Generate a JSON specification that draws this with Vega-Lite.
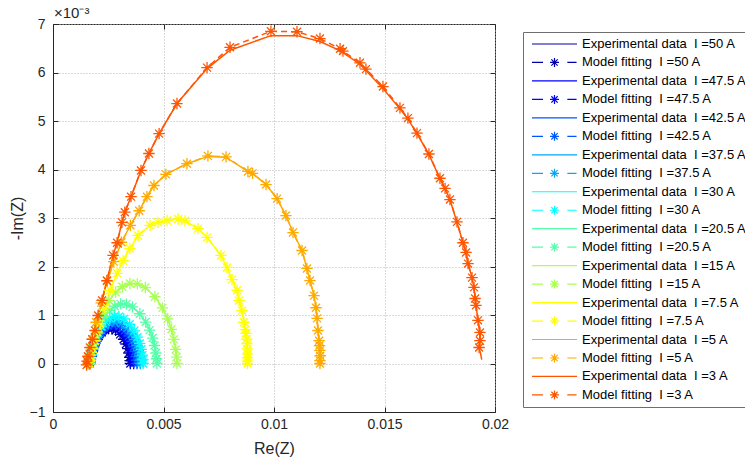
{
"$schema": "https://vega.github.io/schema/vega-lite/v6.json",
"width": 442, "height": 388,
"autosize": {"type": "none"},
"padding": {"left": 53, "top": 24, "right": 250, "bottom": 54},
"background": "white",
"title": {"text": "×10⁻³", "anchor": "start", "frame": "group", "font": "Liberation Sans", "fontSize": 15, "fontWeight": "normal", "color": "#262626", "baseline": "alphabetic", "offset": 4, "dx": 1, "dy": 20},
"config": {
  "view": {"stroke": "#262626", "strokeWidth": 1},
  "axis": {"labelFont": "Liberation Sans", "labelFontSize": 14, "labelColor": "#262626", "titleFont": "Liberation Sans", "titleFontSize": 16, "titleFontWeight": "normal", "titleColor": "#262626", "domainColor": "#262626", "tickColor": "#262626", "gridColor": "#b4b4b4", "gridDash": [1, 2], "gridOpacity": 1, "labelFlush": false, "labelOverlap": false, "labelBound": false},
  "legend": {"title": null, "orient": "none", "padding": 5, "fillColor": "white", "strokeColor": "#6e6e6e",
      "labelFont": "Liberation Sans", "labelFontSize": 13, "labelColor": "#000000", "labelLimit": 400, "labelOffset": 4,
      "symbolOffset": 3, "symbolSize": 2025, "symbolStrokeWidth": 1.2, "symbolFillColor": "transparent", "symbolOpacity": 1, "clipHeight": 14, "rowPadding": 4.47}
},
"datasets": {
"nyquist": [
{"k":"E50","x":0.00165,"y":0},{"k":"E50","x":0.001663,"y":0.036},{"k":"E50","x":0.001687,"y":0.072},{"k":"E50","x":0.00172,"y":0.137},{"k":"E50","x":0.001772,"y":0.238},{"k":"E50","x":0.001835,"y":0.338},{"k":"E50","x":0.001941,"y":0.457},{"k":"E50","x":0.002072,"y":0.566},{"k":"E50","x":0.002212,"y":0.642},{"k":"E50","x":0.002353,"y":0.691},{"k":"E50","x":0.002512,"y":0.72},{"k":"E50","x":0.002668,"y":0.716},{"k":"E50","x":0.002836,"y":0.683},{"k":"E50","x":0.003036,"y":0.6},{"k":"E50","x":0.003195,"y":0.5},{"k":"E50","x":0.003304,"y":0.402},{"k":"E50","x":0.003384,"y":0.307},{"k":"E50","x":0.003435,"y":0.217},{"k":"E50","x":0.003472,"y":0.127},{"k":"E50","x":0.003491,"y":0.058},{"k":"E50","x":0.0035,"y":0},
{"k":"M50","x":0.00165,"y":0},{"k":"M50","x":0.001663,"y":0.036},{"k":"M50","x":0.001687,"y":0.072},{"k":"M50","x":0.00172,"y":0.137},{"k":"M50","x":0.001772,"y":0.238},{"k":"M50","x":0.001835,"y":0.338},{"k":"M50","x":0.001941,"y":0.457},{"k":"M50","x":0.002072,"y":0.566},{"k":"M50","x":0.002212,"y":0.642},{"k":"M50","x":0.002353,"y":0.691},{"k":"M50","x":0.002512,"y":0.72},{"k":"M50","x":0.002668,"y":0.716},{"k":"M50","x":0.002836,"y":0.683},{"k":"M50","x":0.003036,"y":0.6},{"k":"M50","x":0.003195,"y":0.5},{"k":"M50","x":0.003304,"y":0.402},{"k":"M50","x":0.003384,"y":0.307},{"k":"M50","x":0.003435,"y":0.217},{"k":"M50","x":0.003472,"y":0.127},{"k":"M50","x":0.003491,"y":0.058},{"k":"M50","x":0.0035,"y":0},
{"k":"E47.5","x":0.00165,"y":0},{"k":"E47.5","x":0.001664,"y":0.039},{"k":"E47.5","x":0.00169,"y":0.077},{"k":"E47.5","x":0.001726,"y":0.146},{"k":"E47.5","x":0.001782,"y":0.254},{"k":"E47.5","x":0.00185,"y":0.362},{"k":"E47.5","x":0.001964,"y":0.489},{"k":"E47.5","x":0.002106,"y":0.605},{"k":"E47.5","x":0.002258,"y":0.686},{"k":"E47.5","x":0.00241,"y":0.739},{"k":"E47.5","x":0.002582,"y":0.77},{"k":"E47.5","x":0.00275,"y":0.766},{"k":"E47.5","x":0.002932,"y":0.731},{"k":"E47.5","x":0.003148,"y":0.642},{"k":"E47.5","x":0.00332,"y":0.535},{"k":"E47.5","x":0.003438,"y":0.43},{"k":"E47.5","x":0.003524,"y":0.329},{"k":"E47.5","x":0.00358,"y":0.233},{"k":"E47.5","x":0.00362,"y":0.136},{"k":"E47.5","x":0.00364,"y":0.062},{"k":"E47.5","x":0.00365,"y":0},
{"k":"M47.5","x":0.00165,"y":0},{"k":"M47.5","x":0.001664,"y":0.039},{"k":"M47.5","x":0.00169,"y":0.077},{"k":"M47.5","x":0.001726,"y":0.146},{"k":"M47.5","x":0.001782,"y":0.254},{"k":"M47.5","x":0.00185,"y":0.362},{"k":"M47.5","x":0.001964,"y":0.489},{"k":"M47.5","x":0.002106,"y":0.605},{"k":"M47.5","x":0.002258,"y":0.686},{"k":"M47.5","x":0.00241,"y":0.739},{"k":"M47.5","x":0.002582,"y":0.77},{"k":"M47.5","x":0.00275,"y":0.766},{"k":"M47.5","x":0.002932,"y":0.731},{"k":"M47.5","x":0.003148,"y":0.642},{"k":"M47.5","x":0.00332,"y":0.535},{"k":"M47.5","x":0.003438,"y":0.43},{"k":"M47.5","x":0.003524,"y":0.329},{"k":"M47.5","x":0.00358,"y":0.233},{"k":"M47.5","x":0.00362,"y":0.136},{"k":"M47.5","x":0.00364,"y":0.062},{"k":"M47.5","x":0.00365,"y":0},
{"k":"E42.5","x":0.00165,"y":0},{"k":"E42.5","x":0.001665,"y":0.041},{"k":"E42.5","x":0.001693,"y":0.082},{"k":"E42.5","x":0.001732,"y":0.156},{"k":"E42.5","x":0.001792,"y":0.271},{"k":"E42.5","x":0.001865,"y":0.385},{"k":"E42.5","x":0.001988,"y":0.521},{"k":"E42.5","x":0.00214,"y":0.645},{"k":"E42.5","x":0.002304,"y":0.731},{"k":"E42.5","x":0.002467,"y":0.787},{"k":"E42.5","x":0.002652,"y":0.82},{"k":"E42.5","x":0.002833,"y":0.816},{"k":"E42.5","x":0.003028,"y":0.778},{"k":"E42.5","x":0.00326,"y":0.684},{"k":"E42.5","x":0.003445,"y":0.57},{"k":"E42.5","x":0.003572,"y":0.458},{"k":"E42.5","x":0.003665,"y":0.35},{"k":"E42.5","x":0.003725,"y":0.248},{"k":"E42.5","x":0.003768,"y":0.144},{"k":"E42.5","x":0.003789,"y":0.066},{"k":"E42.5","x":0.0038,"y":0},
{"k":"M42.5","x":0.00165,"y":0},{"k":"M42.5","x":0.001665,"y":0.041},{"k":"M42.5","x":0.001693,"y":0.082},{"k":"M42.5","x":0.001732,"y":0.156},{"k":"M42.5","x":0.001792,"y":0.271},{"k":"M42.5","x":0.001865,"y":0.385},{"k":"M42.5","x":0.001988,"y":0.521},{"k":"M42.5","x":0.00214,"y":0.645},{"k":"M42.5","x":0.002304,"y":0.731},{"k":"M42.5","x":0.002467,"y":0.787},{"k":"M42.5","x":0.002652,"y":0.82},{"k":"M42.5","x":0.002833,"y":0.816},{"k":"M42.5","x":0.003028,"y":0.778},{"k":"M42.5","x":0.00326,"y":0.684},{"k":"M42.5","x":0.003445,"y":0.57},{"k":"M42.5","x":0.003572,"y":0.458},{"k":"M42.5","x":0.003665,"y":0.35},{"k":"M42.5","x":0.003725,"y":0.248},{"k":"M42.5","x":0.003768,"y":0.144},{"k":"M42.5","x":0.003789,"y":0.066},{"k":"M42.5","x":0.0038,"y":0},
{"k":"E37.5","x":0.00164,"y":0},{"k":"E37.5","x":0.001656,"y":0.044},{"k":"E37.5","x":0.001686,"y":0.088},{"k":"E37.5","x":0.001728,"y":0.167},{"k":"E37.5","x":0.001793,"y":0.29},{"k":"E37.5","x":0.001871,"y":0.414},{"k":"E37.5","x":0.002003,"y":0.559},{"k":"E37.5","x":0.002167,"y":0.692},{"k":"E37.5","x":0.002342,"y":0.784},{"k":"E37.5","x":0.002518,"y":0.845},{"k":"E37.5","x":0.002717,"y":0.88},{"k":"E37.5","x":0.002911,"y":0.876},{"k":"E37.5","x":0.003121,"y":0.835},{"k":"E37.5","x":0.00337,"y":0.734},{"k":"E37.5","x":0.003569,"y":0.612},{"k":"E37.5","x":0.003705,"y":0.492},{"k":"E37.5","x":0.003805,"y":0.376},{"k":"E37.5","x":0.003869,"y":0.266},{"k":"E37.5","x":0.003915,"y":0.155},{"k":"E37.5","x":0.003939,"y":0.07},{"k":"E37.5","x":0.00395,"y":0},
{"k":"M37.5","x":0.00164,"y":0},{"k":"M37.5","x":0.001656,"y":0.044},{"k":"M37.5","x":0.001686,"y":0.088},{"k":"M37.5","x":0.001728,"y":0.167},{"k":"M37.5","x":0.001793,"y":0.29},{"k":"M37.5","x":0.001871,"y":0.414},{"k":"M37.5","x":0.002003,"y":0.559},{"k":"M37.5","x":0.002167,"y":0.692},{"k":"M37.5","x":0.002342,"y":0.784},{"k":"M37.5","x":0.002518,"y":0.845},{"k":"M37.5","x":0.002717,"y":0.88},{"k":"M37.5","x":0.002911,"y":0.876},{"k":"M37.5","x":0.003121,"y":0.835},{"k":"M37.5","x":0.00337,"y":0.734},{"k":"M37.5","x":0.003569,"y":0.612},{"k":"M37.5","x":0.003705,"y":0.492},{"k":"M37.5","x":0.003805,"y":0.376},{"k":"M37.5","x":0.003869,"y":0.266},{"k":"M37.5","x":0.003915,"y":0.155},{"k":"M37.5","x":0.003939,"y":0.07},{"k":"M37.5","x":0.00395,"y":0},
{"k":"E30","x":0.00164,"y":0},{"k":"E30","x":0.001657,"y":0.049},{"k":"E30","x":0.001689,"y":0.097},{"k":"E30","x":0.001733,"y":0.184},{"k":"E30","x":0.001801,"y":0.32},{"k":"E30","x":0.001884,"y":0.456},{"k":"E30","x":0.002023,"y":0.616},{"k":"E30","x":0.002196,"y":0.762},{"k":"E30","x":0.002382,"y":0.864},{"k":"E30","x":0.002567,"y":0.931},{"k":"E30","x":0.002777,"y":0.97},{"k":"E30","x":0.002982,"y":0.965},{"k":"E30","x":0.003204,"y":0.921},{"k":"E30","x":0.003468,"y":0.809},{"k":"E30","x":0.003677,"y":0.674},{"k":"E30","x":0.003821,"y":0.542},{"k":"E30","x":0.003926,"y":0.414},{"k":"E30","x":0.003995,"y":0.293},{"k":"E30","x":0.004043,"y":0.171},{"k":"E30","x":0.004068,"y":0.078},{"k":"E30","x":0.00408,"y":0},
{"k":"M30","x":0.00164,"y":0},{"k":"M30","x":0.001657,"y":0.049},{"k":"M30","x":0.001689,"y":0.097},{"k":"M30","x":0.001733,"y":0.184},{"k":"M30","x":0.001801,"y":0.32},{"k":"M30","x":0.001884,"y":0.456},{"k":"M30","x":0.002023,"y":0.616},{"k":"M30","x":0.002196,"y":0.762},{"k":"M30","x":0.002382,"y":0.864},{"k":"M30","x":0.002567,"y":0.931},{"k":"M30","x":0.002777,"y":0.97},{"k":"M30","x":0.002982,"y":0.965},{"k":"M30","x":0.003204,"y":0.921},{"k":"M30","x":0.003468,"y":0.809},{"k":"M30","x":0.003677,"y":0.674},{"k":"M30","x":0.003821,"y":0.542},{"k":"M30","x":0.003926,"y":0.414},{"k":"M30","x":0.003995,"y":0.293},{"k":"M30","x":0.004043,"y":0.171},{"k":"M30","x":0.004068,"y":0.078},{"k":"M30","x":0.00408,"y":0},
{"k":"E20.5","x":0.00163,"y":0},{"k":"E20.5","x":0.001652,"y":0.062},{"k":"E20.5","x":0.001691,"y":0.123},{"k":"E20.5","x":0.001747,"y":0.234},{"k":"E20.5","x":0.001833,"y":0.406},{"k":"E20.5","x":0.001937,"y":0.578},{"k":"E20.5","x":0.002112,"y":0.781},{"k":"E20.5","x":0.00233,"y":0.967},{"k":"E20.5","x":0.002563,"y":1.096},{"k":"E20.5","x":0.002797,"y":1.181},{"k":"E20.5","x":0.003061,"y":1.23},{"k":"E20.5","x":0.003319,"y":1.224},{"k":"E20.5","x":0.003598,"y":1.167},{"k":"E20.5","x":0.003929,"y":1.026},{"k":"E20.5","x":0.004194,"y":0.855},{"k":"E20.5","x":0.004375,"y":0.688},{"k":"E20.5","x":0.004507,"y":0.525},{"k":"E20.5","x":0.004593,"y":0.371},{"k":"E20.5","x":0.004654,"y":0.216},{"k":"E20.5","x":0.004685,"y":0.098},{"k":"E20.5","x":0.0047,"y":0},
{"k":"M20.5","x":0.00163,"y":0},{"k":"M20.5","x":0.001652,"y":0.062},{"k":"M20.5","x":0.001691,"y":0.123},{"k":"M20.5","x":0.001747,"y":0.234},{"k":"M20.5","x":0.001833,"y":0.406},{"k":"M20.5","x":0.001937,"y":0.578},{"k":"M20.5","x":0.002112,"y":0.781},{"k":"M20.5","x":0.00233,"y":0.967},{"k":"M20.5","x":0.002563,"y":1.096},{"k":"M20.5","x":0.002797,"y":1.181},{"k":"M20.5","x":0.003061,"y":1.23},{"k":"M20.5","x":0.003319,"y":1.224},{"k":"M20.5","x":0.003598,"y":1.167},{"k":"M20.5","x":0.003929,"y":1.026},{"k":"M20.5","x":0.004194,"y":0.855},{"k":"M20.5","x":0.004375,"y":0.688},{"k":"M20.5","x":0.004507,"y":0.525},{"k":"M20.5","x":0.004593,"y":0.371},{"k":"M20.5","x":0.004654,"y":0.216},{"k":"M20.5","x":0.004685,"y":0.098},{"k":"M20.5","x":0.0047,"y":0},
{"k":"E15","x":0.00162,"y":0},{"k":"E15","x":0.001648,"y":0.083},{"k":"E15","x":0.0017,"y":0.165},{"k":"E15","x":0.001772,"y":0.314},{"k":"E15","x":0.001883,"y":0.545},{"k":"E15","x":0.002019,"y":0.776},{"k":"E15","x":0.002246,"y":1.048},{"k":"E15","x":0.00253,"y":1.297},{"k":"E15","x":0.002833,"y":1.47},{"k":"E15","x":0.003136,"y":1.584},{"k":"E15","x":0.003479,"y":1.65},{"k":"E15","x":0.003815,"y":1.642},{"k":"E15","x":0.004178,"y":1.566},{"k":"E15","x":0.004609,"y":1.376},{"k":"E15","x":0.004952,"y":1.147},{"k":"E15","x":0.005187,"y":0.922},{"k":"E15","x":0.005359,"y":0.705},{"k":"E15","x":0.00547,"y":0.498},{"k":"E15","x":0.00555,"y":0.29},{"k":"E15","x":0.00559,"y":0.132},{"k":"E15","x":0.00561,"y":0},
{"k":"M15","x":0.00162,"y":0},{"k":"M15","x":0.001648,"y":0.083},{"k":"M15","x":0.0017,"y":0.165},{"k":"M15","x":0.001772,"y":0.314},{"k":"M15","x":0.001883,"y":0.545},{"k":"M15","x":0.002019,"y":0.776},{"k":"M15","x":0.002246,"y":1.048},{"k":"M15","x":0.00253,"y":1.297},{"k":"M15","x":0.002833,"y":1.47},{"k":"M15","x":0.003136,"y":1.584},{"k":"M15","x":0.003479,"y":1.65},{"k":"M15","x":0.003815,"y":1.642},{"k":"M15","x":0.004178,"y":1.566},{"k":"M15","x":0.004609,"y":1.376},{"k":"M15","x":0.004952,"y":1.147},{"k":"M15","x":0.005187,"y":0.922},{"k":"M15","x":0.005359,"y":0.705},{"k":"M15","x":0.00547,"y":0.498},{"k":"M15","x":0.00555,"y":0.29},{"k":"M15","x":0.00559,"y":0.132},{"k":"M15","x":0.00561,"y":0},
{"k":"E7.5","x":0.00165,"y":0},{"k":"E7.5","x":0.00168,"y":0.06},{"k":"E7.5","x":0.00172,"y":0.12},{"k":"E7.5","x":0.0018,"y":0.3},{"k":"E7.5","x":0.0019,"y":0.47},{"k":"E7.5","x":0.002,"y":0.65},{"k":"E7.5","x":0.00213,"y":0.82},{"k":"E7.5","x":0.00235,"y":1.15},{"k":"E7.5","x":0.00258,"y":1.51},{"k":"E7.5","x":0.0029,"y":1.86},{"k":"E7.5","x":0.00317,"y":2.12},{"k":"E7.5","x":0.00348,"y":2.37},{"k":"E7.5","x":0.00385,"y":2.64},{"k":"E7.5","x":0.00439,"y":2.85},{"k":"E7.5","x":0.00475,"y":2.91},{"k":"E7.5","x":0.00516,"y":2.95},{"k":"E7.5","x":0.00566,"y":2.98},{"k":"E7.5","x":0.00597,"y":2.94},{"k":"E7.5","x":0.00656,"y":2.78},{"k":"E7.5","x":0.00697,"y":2.6},{"k":"E7.5","x":0.0076,"y":2.23},{"k":"E7.5","x":0.00787,"y":1.98},{"k":"E7.5","x":0.0081,"y":1.73},{"k":"E7.5","x":0.00833,"y":1.51},{"k":"E7.5","x":0.00842,"y":1.3},{"k":"E7.5","x":0.00855,"y":1.09},{"k":"E7.5","x":0.00864,"y":0.85},{"k":"E7.5","x":0.0087,"y":0.7},{"k":"E7.5","x":0.00873,"y":0.62},{"k":"E7.5","x":0.00876,"y":0.5},{"k":"E7.5","x":0.00878,"y":0.41},{"k":"E7.5","x":0.00879,"y":0.3},{"k":"E7.5","x":0.0088,"y":0.2},{"k":"E7.5","x":0.0088,"y":0.12},{"k":"E7.5","x":0.0088,"y":0.05},{"k":"E7.5","x":0.0088,"y":0},
{"k":"M7.5","x":0.00165,"y":0},{"k":"M7.5","x":0.00168,"y":0.06},{"k":"M7.5","x":0.00172,"y":0.12},{"k":"M7.5","x":0.0018,"y":0.3},{"k":"M7.5","x":0.0019,"y":0.47},{"k":"M7.5","x":0.002,"y":0.65},{"k":"M7.5","x":0.00213,"y":0.82},{"k":"M7.5","x":0.00235,"y":1.15},{"k":"M7.5","x":0.00258,"y":1.51},{"k":"M7.5","x":0.0029,"y":1.86},{"k":"M7.5","x":0.00317,"y":2.12},{"k":"M7.5","x":0.00348,"y":2.37},{"k":"M7.5","x":0.00385,"y":2.64},{"k":"M7.5","x":0.00439,"y":2.85},{"k":"M7.5","x":0.00475,"y":2.91},{"k":"M7.5","x":0.00516,"y":2.95},{"k":"M7.5","x":0.00566,"y":2.98},{"k":"M7.5","x":0.00597,"y":2.94},{"k":"M7.5","x":0.00656,"y":2.78},{"k":"M7.5","x":0.00697,"y":2.6},{"k":"M7.5","x":0.0076,"y":2.23},{"k":"M7.5","x":0.00787,"y":1.98},{"k":"M7.5","x":0.0081,"y":1.73},{"k":"M7.5","x":0.00833,"y":1.51},{"k":"M7.5","x":0.00842,"y":1.3},{"k":"M7.5","x":0.00855,"y":1.09},{"k":"M7.5","x":0.00864,"y":0.85},{"k":"M7.5","x":0.0087,"y":0.7},{"k":"M7.5","x":0.00873,"y":0.62},{"k":"M7.5","x":0.00876,"y":0.5},{"k":"M7.5","x":0.00878,"y":0.41},{"k":"M7.5","x":0.00879,"y":0.3},{"k":"M7.5","x":0.0088,"y":0.2},{"k":"M7.5","x":0.0088,"y":0.12},{"k":"M7.5","x":0.0088,"y":0.05},{"k":"M7.5","x":0.0088,"y":0},
{"k":"E5","x":0.00158,"y":0},{"k":"E5","x":0.00165,"y":0.2},{"k":"E5","x":0.00178,"y":0.5},{"k":"E5","x":0.00195,"y":0.85},{"k":"E5","x":0.00218,"y":1.25},{"k":"E5","x":0.00245,"y":1.7},{"k":"E5","x":0.00275,"y":2.1},{"k":"E5","x":0.0031,"y":2.5},{"k":"E5","x":0.0035,"y":2.85},{"k":"E5","x":0.0039,"y":3.15},{"k":"E5","x":0.00425,"y":3.44},{"k":"E5","x":0.00457,"y":3.67},{"k":"E5","x":0.00511,"y":3.9},{"k":"E5","x":0.00606,"y":4.12},{"k":"E5","x":0.00701,"y":4.27},{"k":"E5","x":0.00783,"y":4.25},{"k":"E5","x":0.00882,"y":3.96},{"k":"E5","x":0.00903,"y":3.92},{"k":"E5","x":0.00964,"y":3.69},{"k":"E5","x":0.01014,"y":3.4},{"k":"E5","x":0.01054,"y":3.05},{"k":"E5","x":0.01086,"y":2.7},{"k":"E5","x":0.01127,"y":2.33},{"k":"E5","x":0.01149,"y":1.96},{"k":"E5","x":0.01163,"y":1.71},{"k":"E5","x":0.01181,"y":1.4},{"k":"E5","x":0.0119,"y":1.15},{"k":"E5","x":0.01195,"y":0.93},{"k":"E5","x":0.01199,"y":0.68},{"k":"E5","x":0.01204,"y":0.47},{"k":"E5","x":0.01206,"y":0.37},{"k":"E5","x":0.01208,"y":0.27},{"k":"E5","x":0.01209,"y":0.16},{"k":"E5","x":0.01208,"y":0.06},{"k":"E5","x":0.01208,"y":0},
{"k":"M5","x":0.00158,"y":0},{"k":"M5","x":0.00165,"y":0.2},{"k":"M5","x":0.00178,"y":0.5},{"k":"M5","x":0.00195,"y":0.85},{"k":"M5","x":0.00218,"y":1.25},{"k":"M5","x":0.00245,"y":1.7},{"k":"M5","x":0.00275,"y":2.1},{"k":"M5","x":0.0031,"y":2.5},{"k":"M5","x":0.0035,"y":2.85},{"k":"M5","x":0.0039,"y":3.15},{"k":"M5","x":0.00425,"y":3.44},{"k":"M5","x":0.00457,"y":3.67},{"k":"M5","x":0.00511,"y":3.9},{"k":"M5","x":0.00606,"y":4.12},{"k":"M5","x":0.00701,"y":4.28},{"k":"M5","x":0.00783,"y":4.26},{"k":"M5","x":0.00882,"y":3.96},{"k":"M5","x":0.00903,"y":3.92},{"k":"M5","x":0.00964,"y":3.69},{"k":"M5","x":0.01014,"y":3.4},{"k":"M5","x":0.01054,"y":3.05},{"k":"M5","x":0.01086,"y":2.7},{"k":"M5","x":0.01127,"y":2.33},{"k":"M5","x":0.01149,"y":1.96},{"k":"M5","x":0.01163,"y":1.71},{"k":"M5","x":0.01181,"y":1.4},{"k":"M5","x":0.0119,"y":1.15},{"k":"M5","x":0.01195,"y":0.93},{"k":"M5","x":0.01199,"y":0.68},{"k":"M5","x":0.01204,"y":0.47},{"k":"M5","x":0.01206,"y":0.37},{"k":"M5","x":0.01208,"y":0.27},{"k":"M5","x":0.01209,"y":0.16},{"k":"M5","x":0.01208,"y":0.06},{"k":"M5","x":0.01208,"y":0},
{"k":"E3","x":0.00152,"y":-0.03},{"k":"E3","x":0.00154,"y":0.05},{"k":"E3","x":0.00158,"y":0.15},{"k":"E3","x":0.00167,"y":0.33},{"k":"E3","x":0.00178,"y":0.5},{"k":"E3","x":0.0019,"y":0.68},{"k":"E3","x":0.00204,"y":0.99},{"k":"E3","x":0.00222,"y":1.3},{"k":"E3","x":0.00244,"y":1.71},{"k":"E3","x":0.00272,"y":2.23},{"k":"E3","x":0.0029,"y":2.49},{"k":"E3","x":0.00312,"y":2.91},{"k":"E3","x":0.00325,"y":3.12},{"k":"E3","x":0.00353,"y":3.44},{"k":"E3","x":0.00398,"y":3.98},{"k":"E3","x":0.00434,"y":4.33},{"k":"E3","x":0.0048,"y":4.74},{"k":"E3","x":0.00561,"y":5.36},{"k":"E3","x":0.00697,"y":6.08},{"k":"E3","x":0.00801,"y":6.46},{"k":"E3","x":0.00986,"y":6.76},{"k":"E3","x":0.01104,"y":6.76},{"k":"E3","x":0.01208,"y":6.64},{"k":"E3","x":0.01299,"y":6.45},{"k":"E3","x":0.01312,"y":6.41},{"k":"E3","x":0.01389,"y":6.17},{"k":"E3","x":0.01416,"y":6.04},{"k":"E3","x":0.01493,"y":5.67},{"k":"E3","x":0.0157,"y":5.25},{"k":"E3","x":0.01606,"y":5.04},{"k":"E3","x":0.01647,"y":4.74},{"k":"E3","x":0.01701,"y":4.31},{"k":"E3","x":0.01751,"y":3.81},{"k":"E3","x":0.01774,"y":3.61},{"k":"E3","x":0.01796,"y":3.38},{"k":"E3","x":0.01828,"y":2.91},{"k":"E3","x":0.01855,"y":2.49},{"k":"E3","x":0.01869,"y":2.29},{"k":"E3","x":0.01878,"y":2.06},{"k":"E3","x":0.01896,"y":1.77},{"k":"E3","x":0.01905,"y":1.57},{"k":"E3","x":0.0191,"y":1.34},{"k":"E3","x":0.01914,"y":1.2},{"k":"E3","x":0.01923,"y":0.89},{"k":"E3","x":0.01932,"y":0.64},{"k":"E3","x":0.01932,"y":0.47},{"k":"E3","x":0.01928,"y":0.33},{"k":"E3","x":0.01935,"y":0.2},{"k":"E3","x":0.0194,"y":0.08},
{"k":"M3","x":0.00152,"y":-0.03},{"k":"M3","x":0.00154,"y":0.05},{"k":"M3","x":0.00158,"y":0.15},{"k":"M3","x":0.00167,"y":0.33},{"k":"M3","x":0.00178,"y":0.5},{"k":"M3","x":0.0019,"y":0.68},{"k":"M3","x":0.00204,"y":0.99},{"k":"M3","x":0.00222,"y":1.3},{"k":"M3","x":0.00244,"y":1.71},{"k":"M3","x":0.00272,"y":2.23},{"k":"M3","x":0.0029,"y":2.49},{"k":"M3","x":0.00312,"y":2.91},{"k":"M3","x":0.00325,"y":3.12},{"k":"M3","x":0.00353,"y":3.44},{"k":"M3","x":0.00398,"y":3.98},{"k":"M3","x":0.00434,"y":4.33},{"k":"M3","x":0.0048,"y":4.74},{"k":"M3","x":0.00561,"y":5.36},{"k":"M3","x":0.00697,"y":6.1},{"k":"M3","x":0.00801,"y":6.52},{"k":"M3","x":0.00986,"y":6.85},{"k":"M3","x":0.01104,"y":6.84},{"k":"M3","x":0.01208,"y":6.7},{"k":"M3","x":0.01299,"y":6.49},{"k":"M3","x":0.01312,"y":6.44},{"k":"M3","x":0.01389,"y":6.2},{"k":"M3","x":0.01416,"y":6.07},{"k":"M3","x":0.01493,"y":5.71},{"k":"M3","x":0.0157,"y":5.27},{"k":"M3","x":0.01606,"y":5.06},{"k":"M3","x":0.01647,"y":4.75},{"k":"M3","x":0.01701,"y":4.32},{"k":"M3","x":0.01751,"y":3.82},{"k":"M3","x":0.01774,"y":3.61},{"k":"M3","x":0.01796,"y":3.38},{"k":"M3","x":0.01828,"y":2.92},{"k":"M3","x":0.01855,"y":2.49},{"k":"M3","x":0.01869,"y":2.29},{"k":"M3","x":0.01878,"y":2.06},{"k":"M3","x":0.01896,"y":1.77},{"k":"M3","x":0.01905,"y":1.57},{"k":"M3","x":0.0191,"y":1.34},{"k":"M3","x":0.01914,"y":1.2},{"k":"M3","x":0.01923,"y":0.89},{"k":"M3","x":0.01932,"y":0.64},{"k":"M3","x":0.01932,"y":0.47},{"k":"M3","x":0.01928,"y":0.33}
]
},
"data": {"name": "nyquist"},
"encoding": {
  "color": {"field": "k", "type": "nominal",
    "scale": {"domain": ["E50","M50","E47.5","M47.5","E42.5","M42.5","E37.5","M37.5","E30","M30","E20.5","M20.5","E15","M15","E7.5","M7.5","E5","M5","E3","M3"],
              "range": ["#0000AA","#0000AA","#0000FF","#0000FF","#0055FF","#0055FF","#00AAFF","#00AAFF","#00FFFF","#00FFFF","#55FFAA","#55FFAA","#AAFF55","#AAFF55","#FFFF00","#FFFF00","#FFAA00","#FFAA00","#FF5500","#FF5500"]},
    "legend": {"title": null, "orient": "none", "legendX": 470, "legendY": 8,
      "labelExpr": "(indexof(datum.label,'E')==0 ? 'Experimental data\u00a0 I =' : 'Model fitting\u00a0 I =') + slice(datum.label,1) + ' A'"}
  },
  "order": {"value": null}
},
"layer": [
  {"transform": [{"filter": "indexof(datum.k,'E')==0"}],
   "mark": {"type": "line", "strokeWidth": 1.5},
   "encoding": {
     "x": {"field": "x", "type": "quantitative", "scale": {"domain": [0, 0.02], "nice": false, "zero": false},
           "axis": {"orient": "bottom", "values": [0, 0.005, 0.01, 0.015, 0.02], "format": "~g", "title": "Re(Z)", "grid": true, "tickSize": -5, "labelPadding": 10, "titlePadding": 9}},
     "y": {"field": "y", "type": "quantitative", "scale": {"domain": [-1, 7], "nice": false, "zero": false},
           "axis": {"orient": "left", "values": [-1, 0, 1, 2, 3, 4, 5, 6, 7], "format": "d", "title": "-Im(Z)", "grid": true, "tickSize": -5, "labelPadding": 13, "titlePadding": 4}}
   }},
  {"transform": [{"filter": "indexof(datum.k,'M')==0"}],
   "mark": {"type": "line", "strokeWidth": 1.5, "strokeDash": [6, 4]},
   "encoding": {
     "x": {"field": "x", "type": "quantitative", "scale": {"domain": [0, 0.02], "nice": false, "zero": false}, "axis": null},
     "y": {"field": "y", "type": "quantitative", "scale": {"domain": [-1, 7], "nice": false, "zero": false}, "axis": null}
   }},
  {"transform": [{"filter": "indexof(datum.k,'M')==0"}],
   "mark": {"type": "point", "shape": "M-1,0H1M0,-1V1M-0.7,-0.7L0.7,0.7M-0.7,0.7L0.7,-0.7", "filled": false, "size": 130, "strokeWidth": 1.3, "opacity": 1},
   "encoding": {
     "x": {"field": "x", "type": "quantitative", "scale": {"domain": [0, 0.02], "nice": false, "zero": false},
           "axis": {"orient": "top", "values": [0, 0.005, 0.01, 0.015, 0.02], "labels": false, "grid": false, "domain": false, "tickSize": -5, "title": null}},
     "y": {"field": "y", "type": "quantitative", "scale": {"domain": [-1, 7], "nice": false, "zero": false},
           "axis": {"orient": "right", "values": [-1, 0, 1, 2, 3, 4, 5, 6, 7], "labels": false, "grid": false, "domain": false, "tickSize": -5, "title": null}}
   }},
  {"mark": {"type": "point", "filled": false, "opacity": 0},
   "encoding": {
     "x": {"field": "x", "type": "quantitative", "scale": {"domain": [0, 0.02], "nice": false, "zero": false}, "axis": null},
     "y": {"field": "y", "type": "quantitative", "scale": {"domain": [-1, 7], "nice": false, "zero": false}, "axis": null},
     "shape": {"field": "k", "type": "nominal",
       "scale": {"domain": ["E50","M50","E47.5","M47.5","E42.5","M42.5","E37.5","M37.5","E30","M30","E20.5","M20.5","E15","M15","E7.5","M7.5","E5","M5","E3","M3"],
                 "range": ["M-1,0H1","M-1,0H-0.51M0.57,0H0.98M-0.2,0H0.2M0,-0.2V0.2M-0.14,-0.14L0.14,0.14M-0.14,0.14L0.14,-0.14","M-1,0H1","M-1,0H-0.51M0.57,0H0.98M-0.2,0H0.2M0,-0.2V0.2M-0.14,-0.14L0.14,0.14M-0.14,0.14L0.14,-0.14","M-1,0H1","M-1,0H-0.51M0.57,0H0.98M-0.2,0H0.2M0,-0.2V0.2M-0.14,-0.14L0.14,0.14M-0.14,0.14L0.14,-0.14","M-1,0H1","M-1,0H-0.51M0.57,0H0.98M-0.2,0H0.2M0,-0.2V0.2M-0.14,-0.14L0.14,0.14M-0.14,0.14L0.14,-0.14","M-1,0H1","M-1,0H-0.51M0.57,0H0.98M-0.2,0H0.2M0,-0.2V0.2M-0.14,-0.14L0.14,0.14M-0.14,0.14L0.14,-0.14","M-1,0H1","M-1,0H-0.51M0.57,0H0.98M-0.2,0H0.2M0,-0.2V0.2M-0.14,-0.14L0.14,0.14M-0.14,0.14L0.14,-0.14","M-1,0H1","M-1,0H-0.51M0.57,0H0.98M-0.2,0H0.2M0,-0.2V0.2M-0.14,-0.14L0.14,0.14M-0.14,0.14L0.14,-0.14","M-1,0H1","M-1,0H-0.51M0.57,0H0.98M-0.2,0H0.2M0,-0.2V0.2M-0.14,-0.14L0.14,0.14M-0.14,0.14L0.14,-0.14","M-1,0H1","M-1,0H-0.51M0.57,0H0.98M-0.2,0H0.2M0,-0.2V0.2M-0.14,-0.14L0.14,0.14M-0.14,0.14L0.14,-0.14","M-1,0H1","M-1,0H-0.51M0.57,0H0.98M-0.2,0H0.2M0,-0.2V0.2M-0.14,-0.14L0.14,0.14M-0.14,0.14L0.14,-0.14"]},
       "legend": {"title": null, "orient": "none", "legendX": 470, "legendY": 8,
         "labelExpr": "(indexof(datum.label,'E')==0 ? 'Experimental data\u00a0 I =' : 'Model fitting\u00a0 I =') + slice(datum.label,1) + ' A'"}}
   }}
],
"resolve": {"axis": {"x": "independent", "y": "independent"}}
}
